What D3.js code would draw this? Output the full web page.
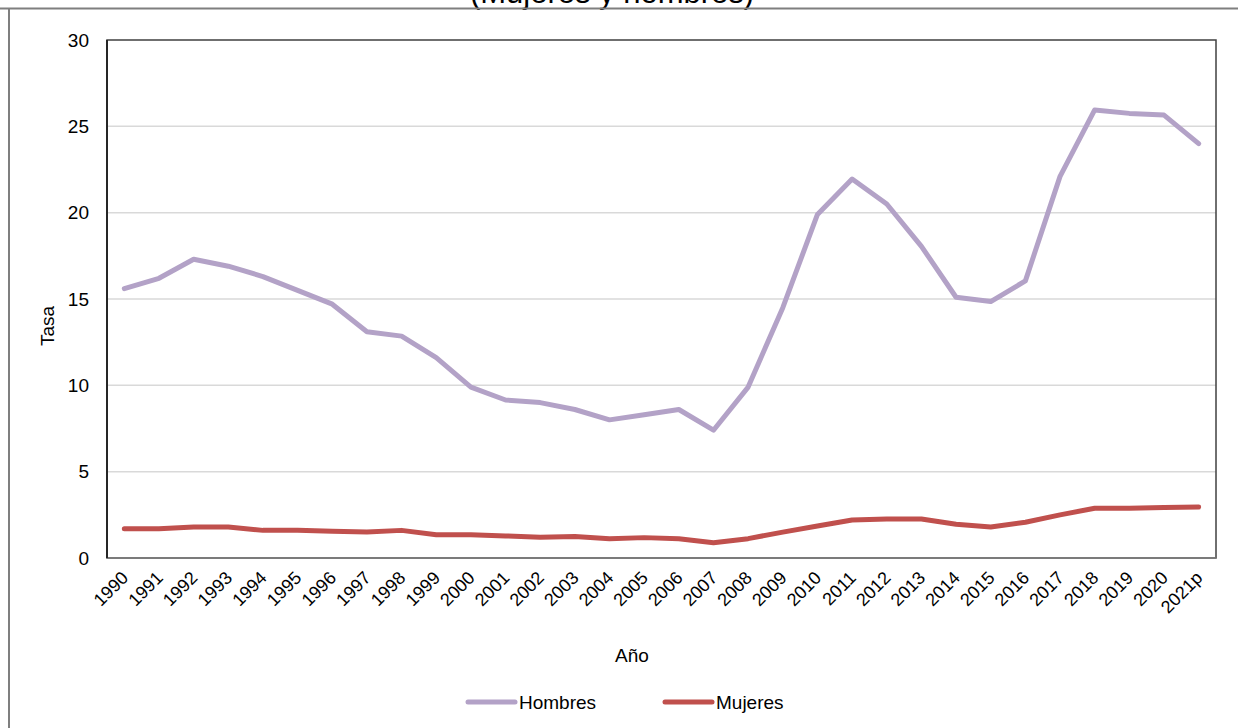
<!DOCTYPE html>
<html>
<head>
<meta charset="utf-8">
<script src="https://cdn.jsdelivr.net/npm/d3@7"></script>
<style>
  html, body { margin: 0; padding: 0; background: #fff; }
  svg { display: block; font-family: "Liberation Sans", Arial, sans-serif; }
</style>
</head>
<body>
<svg id="chart" width="1238" height="728"></svg>
<script>
const years = ["1990","1991","1992","1993","1994","1995","1996","1997","1998","1999","2000","2001","2002","2003","2004","2005","2006","2007","2008","2009","2010","2011","2012","2013","2014","2015","2016","2017","2018","2019","2020","2021p"];
const hombres = [15.6,16.2,17.3,16.9,16.3,15.5,14.7,13.1,12.85,11.6,9.9,9.15,9.0,8.6,8.0,8.3,8.6,7.4,9.9,14.5,19.9,21.95,20.5,18.05,15.1,14.85,16.05,22.1,25.95,25.75,25.65,24.0];
const mujeres = [1.7,1.7,1.8,1.8,1.6,1.6,1.55,1.5,1.6,1.35,1.35,1.28,1.2,1.25,1.12,1.18,1.12,0.88,1.12,1.5,1.85,2.2,2.26,2.26,1.95,1.8,2.07,2.5,2.88,2.88,2.93,2.95];
const yTicks = [0,5,10,15,20,25,30];
const seriesNames = ["Hombres","Mujeres"];
const seriesColors = ["#b3a2c7","#c0504d"];

const svg = d3.select("#chart");
const m = {left: 107, right: 1216, top: 40, bottom: 558};

const x = d3.scaleBand().domain(years).range([m.left, m.right]);
const y = d3.scaleLinear().domain([0, 30]).range([m.bottom, m.top]);

// Title (cut at top, as in the reference)
svg.append("text").attr("x", 612).attr("y", 3).attr("text-anchor", "middle")
  .attr("font-size", 31).attr("fill", "#000").text("(Mujeres y hombres)");

// Outer frame
svg.append("line").attr("x1", 0).attr("x2", 1238).attr("y1", 8.5).attr("y2", 8.5)
  .attr("stroke", "#7f7f7f").attr("stroke-width", 2);
svg.append("line").attr("x1", 9).attr("x2", 9).attr("y1", 8).attr("y2", 728)
  .attr("stroke", "#7f7f7f").attr("stroke-width", 2);

// Gridlines
svg.append("g").selectAll("line").data(yTicks.filter(d => d > 0 && d < 30)).join("line")
  .attr("x1", m.left).attr("x2", m.right)
  .attr("y1", d => y(d)).attr("y2", d => y(d))
  .attr("stroke", "#d9d9d9").attr("stroke-width", 1.5);

// Plot frame
svg.append("rect").attr("x", m.left).attr("y", m.top)
  .attr("width", m.right - m.left).attr("height", m.bottom - m.top)
  .attr("fill", "none").attr("stroke", "#404040").attr("stroke-width", 1.5);
svg.append("line").attr("x1", m.left).attr("x2", m.right).attr("y1", m.bottom).attr("y2", m.bottom)
  .attr("stroke", "#7f7f7f").attr("stroke-width", 1.5);
svg.append("line").attr("x1", m.left).attr("x2", m.left).attr("y1", m.top).attr("y2", m.bottom)
  .attr("stroke", "#262626").attr("stroke-width", 2);

// Y axis
const yAxis = d3.axisLeft(y).tickValues(yTicks).tickSize(0).tickPadding(18);
const gy = svg.append("g").attr("transform", `translate(${m.left},0)`).call(yAxis);
gy.select(".domain").remove();
gy.selectAll("text").attr("font-size", 19).attr("fill", "#000")
  .attr("font-family", "'Liberation Sans', Arial, sans-serif");

// X axis
const xAxis = d3.axisBottom(x).tickSize(0).tickPadding(0);
const gx = svg.append("g").attr("transform", `translate(0,${m.bottom})`).call(xAxis);
gx.select(".domain").remove();
gx.selectAll("text").attr("font-size", 18).attr("fill", "#000")
  .attr("font-family", "'Liberation Sans', Arial, sans-serif")
  .attr("text-anchor", "end").attr("dy", null).attr("y", 0)
  .attr("transform", "translate(5,21) rotate(-45)");

// Axis titles
svg.append("text").attr("transform", "translate(54,326) rotate(-90)")
  .attr("text-anchor", "middle").attr("font-size", 19).text("Tasa");
svg.append("text").attr("x", 632).attr("y", 662)
  .attr("text-anchor", "middle").attr("font-size", 19).text("Año");

// Lines
const line = d3.line().x((d, i) => x(years[i]) + x.bandwidth() / 2).y(d => y(d));
[hombres, mujeres].forEach((s, i) => {
  svg.append("path").datum(s).attr("d", line)
    .attr("fill", "none").attr("stroke", seriesColors[i]).attr("stroke-width", 5)
    .attr("stroke-linejoin", "round").attr("stroke-linecap", "round");
});

// Legend
const legendX = [468, 665];
seriesNames.forEach((n, i) => {
  const g = svg.append("g").attr("transform", `translate(${legendX[i]},702)`);
  g.append("line").attr("x1", 0).attr("x2", 47).attr("y1", 0).attr("y2", 0)
    .attr("stroke", seriesColors[i]).attr("stroke-width", 5).attr("stroke-linecap", "round");
  g.append("text").attr("x", 51).attr("y", 7).attr("font-size", 19).text(n);
});
</script>
</body>
</html>
